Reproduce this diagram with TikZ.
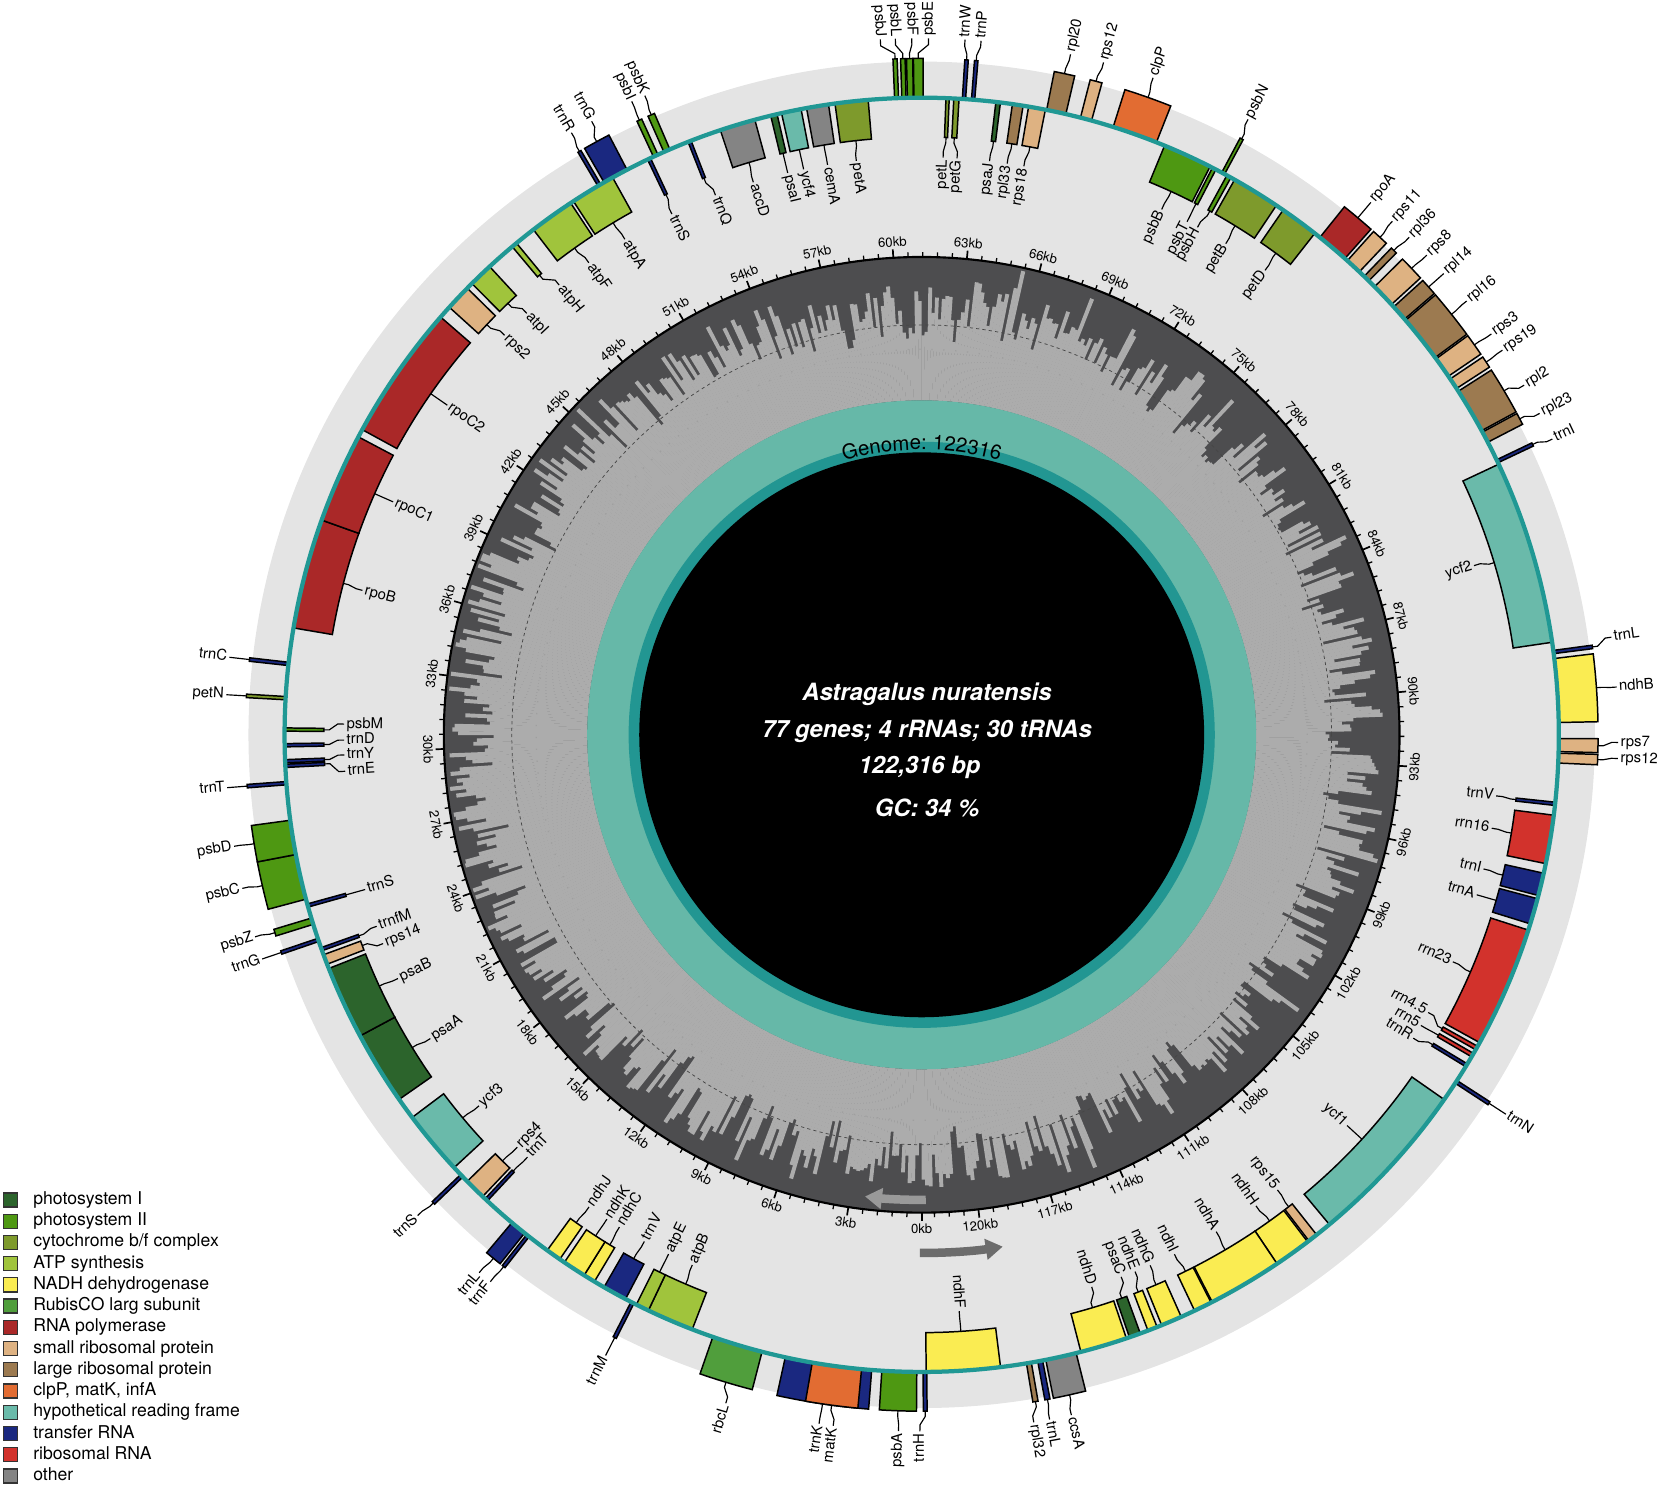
\documentclass[tikz,border=0pt]{standalone}
\usepackage{fontspec}
\setmainfont{TeX Gyre Heros}
\usetikzlibrary{arrows.meta, decorations.text}
\definecolor{PSone}{RGB}{44,100,44}
\definecolor{PStwo}{RGB}{78,152,18}
\definecolor{CytBF}{RGB}{126,154,44}
\definecolor{ATPsyn}{RGB}{160,196,60}
\definecolor{NADH}{RGB}{250,236,82}
\definecolor{Rubisco}{RGB}{80,158,60}
\definecolor{RNApol}{RGB}{170,40,40}
\definecolor{SmallRib}{RGB}{222,178,130}
\definecolor{LargeRib}{RGB}{156,122,80}
\definecolor{ClpMat}{RGB}{226,108,50}
\definecolor{HypoRF}{RGB}{106,186,170}
\definecolor{TransRNA}{RGB}{26,40,128}
\definecolor{RiboRNA}{RGB}{210,50,44}
\definecolor{OtherGene}{RGB}{132,132,132}
\definecolor{RingGray}{RGB}{228,228,228}
\definecolor{GCdark}{RGB}{77,77,79}
\definecolor{GClight}{RGB}{172,172,172}
\definecolor{TealLine}{RGB}{32,152,148}
\definecolor{TealLight}{RGB}{102,184,168}
\definecolor{TealDark}{RGB}{34,150,146}

\begin{document}
\begin{tikzpicture}[x=0.5pt, y=0.5pt,
    genebox/.style={draw=black, line width=0.7pt},
    leader/.style={black, line width=0.55pt},
    genelabel/.style={font=\fontsize{7}{8}\selectfont, inner sep=1pt,
                      text height=5.2pt, text depth=1.5pt},
    ticklabel/.style={font=\fontsize{6.2}{7}\selectfont, inner sep=0.5pt},
    legendbox/.style={draw=black!80, line width=0.6pt, minimum size=6.6pt, inner sep=0pt},
    legendtext/.style={font=\fontsize{8.3}{9}\selectfont, anchor=west, inner sep=0pt,
                       text height=6pt, text depth=1.7pt},
    infotext/.style={font=\fontsize{11.2}{12}\selectfont\bfseries\itshape, text=white},
    strandarrow/.style={line width=4pt, -{Triangle[length=8pt, width=9.5pt]}}
  ]
  \useasboundingbox (-868,-706) rectangle (700,692);

  % outer gene ring
  \fill[RingGray] (0,0) circle[radius=634];

  % GC content
  \fill[GCdark] (0,0) circle[radius=450];
  \pgfmathsetseed{23}
  \gdef\gcprev{405}
  \foreach \gcstep in {0,...,799}{
    \pgfmathsetmacro\gca{\gcstep*0.45}
    \pgfmathsetmacro\gcmean{406+10*cos(2*\gca)+8*cos(\gca-180)}
    \pgfmathsetmacro\gch{max(370,min(447,0.3*\gcprev+0.7*(\gcmean+78*(rnd-0.5))+30*(rnd>0.85)*rnd))}
    \xdef\gcprev{\gch}
    \fill[GClight] (\gca:315) -- (\gca:\gch) -- (\gca+0.5:\gch) -- (\gca+0.5:315) -- cycle;
  }
  \draw[gray!55!black, line width=0.35pt, dash pattern=on 1.5pt off 1.5pt] (0,0) circle[radius=386];
  \draw[gray!75, line width=0.6pt, dash pattern=on 0.6pt off 5pt] (0,0) circle[radius=363];
  \draw[black, line width=1pt] (0,0) circle[radius=450];

  % ticks
  \foreach \tstep in {0,...,203}{
    \pgfmathsetmacro\tickang{-90-2.94321*0.6*\tstep}
    \pgfmathtruncatemacro\tmod{mod(\tstep,5)}
    \ifnum\tmod=0
      \draw[line width=0.8pt] (\tickang:450) -- (\tickang:458);
    \else
      \draw[line width=0.6pt] (\tickang:450) -- (\tickang:454.5);
    \fi
  }
  \foreach \tkb [count=\tj] in {0,3,...,120}{
    \pgfmathsetmacro\tickang{-90-2.94321*\tkb}
    \pgfmathsetmacro\tsin{sin(\tickang)}
    \ifdim\tsin pt>0pt
      \node[ticklabel, rotate=\tickang-90, anchor=south] (tick\tj) at (\tickang:459) {\tkb kb};
    \else
      \node[ticklabel, rotate=\tickang+90, anchor=north] (tick\tj) at (\tickang:459) {\tkb kb};
    \fi
  }

  % centre
  \fill[TealLight] (0,0) circle[radius=315];
  \fill[TealDark] (0,0) circle[radius=276];
  \fill[black] (0,0) circle[radius=266];
  \path[decorate, decoration={text along path, text align=center,
        text={|\fontsize{9.6}{10}\selectfont|Genome: 122316}}]
        (135:268.5) arc[start angle=135, end angle=45, radius=268.5];
  \node[infotext] (species) at (5,38) {Astragalus nuratensis};
  \node[infotext] (counts) at (5,3) {77 genes; 4 rRNAs; 30 tRNAs};
  \node[infotext] (length) at (-2,-31) {122,316 bp};
  \node[infotext] (gccontent) at (5,-69) {GC: 34 \%};

  % strand arrows
  \draw[strandarrow, draw=gray!80] (-89.5:438) arc[start angle=-89.5, end angle=-97, radius=438];
  \draw[strandarrow, draw=gray!85!black] (-90.2:488) arc[start angle=-90.2, end angle=-81, radius=488];

  % genes outside the circle
  \foreach \ks/\ke/\col/\kl/\nm [count=\gi] in {
    122.16/122.27/TransRNA/0.05/trnH,
    0.15/1.22/PStwo/0.65/psbA,
    1.53/4.2/TransRNA/2.88/trnK,
    1.84/3.36/ClpMat/2.48/matK,
    4.93/6.5/Rubisco/5.55/rbcL,
    9.12/9.22/TransRNA/9.17/trnM,
    12.92/13.02/TransRNA/13.0/trnF,
    13.1/13.6/TransRNA/13.4/trnL,
    15.65/15.75/TransRNA/15.75/trnS,
    24.15/24.25/TransRNA/24.2/trnG,
    24.7/24.9/PStwo/24.85/psbZ,
    25.5/26.9/PStwo/26.25/psbC,
    26.9/27.96/PStwo/27.45/psbD,
    29.05/29.15/TransRNA/29.1/trnT,
    31.65/31.75/CytBF/31.7/petN,
    32.7/32.8/TransRNA/32.75/trnC,
    50.78/50.88/TransRNA/50.9/trnR,
    51.0/51.8/TransRNA/51.55/trnG,
    52.7/52.85/PStwo/52.8/psbI,
    53.05/53.25/PStwo/53.2/psbK,
    60.33/60.45/PStwo/60.0/psbJ,
    60.55/60.68/PStwo/60.42/psbL,
    60.72/60.9/PStwo/60.88/psbF,
    60.92/61.2/PStwo/61.35/psbE,
    62.4/62.5/TransRNA/62.37/trnW,
    62.68/62.78/TransRNA/62.82/trnP,
    65.0/65.6/LargeRib/65.35/rpl20,
    66.06/66.41/SmallRib/66.3/rps12,
    67.1/68.5/ClpMat/67.75/clpP,
    70.7/70.8/PStwo/70.65/psbN,
    74.3/75.3/RNApol/74.8/rpoA,
    75.4/75.9/SmallRib/75.6/rps11,
    76.1/76.3/LargeRib/76.25/rpl36,
    76.55/77.3/SmallRib/76.95/rps8,
    77.4/77.9/LargeRib/77.65/rpl14,
    77.95/79.4/LargeRib/78.65/rpl16,
    79.45/80.1/SmallRib/79.8/rps3,
    80.2/80.55/SmallRib/80.35/rps19,
    80.65/82.05/LargeRib/81.5/rpl2,
    82.1/82.45/LargeRib/82.4/rpl23,
    83.05/83.15/TransRNA/83.2/trnI,
    89.15/89.25/TransRNA/89.0/trnL,
    89.4/91.36/NADH/90.4/ndhB,
    91.85/92.25/SmallRib/91.95/rps7,
    92.3/92.6/SmallRib/92.4/rps12,
    102.9/103.0/TransRNA/102.95/trnN,
    117.55/118.5/OtherGene/118.1/ccsA,
    118.6/118.75/TransRNA/118.72/trnL,
    118.95/119.1/LargeRib/119.17/rpl32}{
    \pgfmathsetmacro\aS{-90-2.94321*\ks}
    \pgfmathsetmacro\aE{-90-2.94321*\ke}
    \pgfmathsetmacro\aM{(\aS+\aE)/2}
    \pgfmathsetmacro\aL{-90-2.94321*\kl}
    \filldraw[genebox, fill=\col] (\aS:600) arc[start angle=\aS, end angle=\aE, radius=600]
      -- (\aE:637) arc[start angle=\aE, end angle=\aS, radius=637] -- cycle;
    \pgfmathtruncatemacro\flip{and(mod(\aL+720,360)>90, mod(\aL+720,360)<270)}
    \ifnum\flip=1
      \def\anc{east}
      \node[genelabel, rotate=\aL+180, anchor=east] (out\gi) at (\aL:656) {\nm};
    \else
      \def\anc{west}
      \node[genelabel, rotate=\aL, anchor=west] (out\gi) at (\aL:656) {\nm};
    \fi
    \draw[leader] (\aM:637) -- (\aM:642) -- (\aL:650) -- (out\gi.\anc);
  }

  % genes inside the circle
  \foreach \ks/\ke/\col/\kl/\nm [count=\gi] in {
    7.17/8.63/ATPsyn/7.95/atpB,
    8.63/9.04/ATPsyn/8.83/atpE,
    9.41/10.16/TransRNA/9.75/trnV,
    10.5/10.87/NADH/10.72/ndhC,
    10.87/11.59/NADH/11.22/ndhK,
    11.76/12.23/NADH/11.95/ndhJ,
    14.6/14.7/TransRNA/14.62/trnT,
    14.8/15.46/SmallRib/15.1/rps4,
    16.04/18.04/HypoRF/17.0/ycf3,
    18.72/21.0/PSone/19.8/psaA,
    21.0/23.27/PSone/22.1/psaB,
    23.41/23.72/SmallRib/23.38/rps14,
    23.85/23.95/TransRNA/24.0/trnfM,
    25.25/25.35/TransRNA/25.3/trnS,
    29.58/29.68/TransRNA/29.35/trnE,
    29.72/29.82/TransRNA/29.9/trnY,
    30.21/30.31/TransRNA/30.4/trnD,
    30.69/30.79/PStwo/30.94/psbM,
    33.86/37.27/RNApol/35.5/rpoB,
    37.27/40.05/RNApol/38.66/rpoC1,
    40.3/44.5/RNApol/42.4/rpoC2,
    44.9/45.7/SmallRib/45.45/rps2,
    45.9/46.65/ATPsyn/46.5/atpI,
    47.57/47.74/ATPsyn/47.95/atpH,
    48.4/49.8/ATPsyn/49.2/atpF,
    49.9/51.3/ATPsyn/50.65/atpA,
    52.5/52.6/TransRNA/52.45/trnS,
    53.85/53.95/TransRNA/54.05/trnQ,
    54.9/56.0/OtherGene/55.4/accD,
    56.5/56.7/PSone/56.6/psaI,
    56.84/57.45/HypoRF/57.15/ycf4,
    57.62/58.3/OtherGene/57.97/cemA,
    58.5/59.52/CytBF/58.95/petA,
    61.9/62.0/CytBF/61.88/petL,
    62.14/62.3/CytBF/62.35/petG,
    63.43/63.57/PSone/63.45/psaJ,
    63.94/64.27/LargeRib/64.05/rpl33,
    64.44/64.96/SmallRib/64.62/rps18,
    68.77/70.3/PStwo/69.5/psbB,
    70.38/70.5/PStwo/70.45/psbT,
    70.88/71.02/PStwo/70.85/psbH,
    71.15/72.65/CytBF/71.95/petB,
    72.9/74.1/CytBF/73.55/petD,
    83.2/88.9/HypoRF/85.95/ycf2,
    93.8/93.9/TransRNA/93.8/trnV,
    94.2/95.7/RiboRNA/94.9/rrn16,
    96.0/96.7/TransRNA/96.3/trnI,
    96.8/97.6/TransRNA/97.2/trnA,
    97.8/101.55/RiboRNA/99.6/rrn23,
    101.68/101.8/RiboRNA/101.5/rrn4.5,
    101.93/102.05/RiboRNA/102.0/rrn5,
    102.3/102.4/TransRNA/102.5/trnR,
    103.6/108.8/HypoRF/106.2/ycf1,
    109.3/109.6/SmallRib/109.4/rps15,
    109.65/110.8/NADH/110.3/ndhH,
    110.8/113.1/NADH/111.9/ndhA,
    113.14/113.7/NADH/113.5/ndhI,
    114.15/114.8/NADH/114.4/ndhG,
    114.95/115.25/NADH/114.95/ndhE,
    115.5/115.85/PSone/115.45/psaC,
    115.95/117.4/NADH/116.5/ndhD,
    119.9/122.18/NADH/121.05/ndhF}{
    \pgfmathsetmacro\aS{-90-2.94321*\ks}
    \pgfmathsetmacro\aE{-90-2.94321*\ke}
    \pgfmathsetmacro\aM{(\aS+\aE)/2}
    \pgfmathsetmacro\aL{-90-2.94321*\kl}
    \filldraw[genebox, fill=\col] (\aS:563) arc[start angle=\aS, end angle=\aE, radius=563]
      -- (\aE:600) arc[start angle=\aE, end angle=\aS, radius=600] -- cycle;
    \pgfmathtruncatemacro\flip{and(mod(\aL+900,360)>90, mod(\aL+900,360)<270)}
    \ifnum\flip=1
      \def\anc{east}
      \node[genelabel, rotate=\aL, anchor=east] (in\gi) at (\aL:544) {\nm};
    \else
      \def\anc{west}
      \node[genelabel, rotate=\aL+180, anchor=west] (in\gi) at (\aL:544) {\nm};
    \fi
    \draw[leader] (\aM:563) -- (\aM:558) -- (\aL:550) -- (in\gi.\anc);
  }

  % strand circle
  \draw[TealLine, line width=2pt] (0,0) circle[radius=600];

  % legend
  \foreach \col/\txt [count=\gi] in {PSone/photosystem I, PStwo/photosystem II,
      CytBF/{cytochrome b/f complex}, ATPsyn/ATP synthesis, NADH/NADH dehydrogenase,
      Rubisco/RubisCO larg subunit, RNApol/RNA polymerase, SmallRib/small ribosomal protein,
      LargeRib/large ribosomal protein, ClpMat/{clpP, matK, infA},
      HypoRF/hypothetical reading frame, TransRNA/transfer RNA, RiboRNA/ribosomal RNA,
      OtherGene/other}{
    \pgfmathsetmacro\ly{-438-20*(\gi-1)}
    \node[legendbox, fill=\col] (key\gi) at (-858,\ly) {};
    \node[legendtext] (keytext\gi) at (-837,\ly) {\txt};
  }
\end{tikzpicture}
\end{document}
